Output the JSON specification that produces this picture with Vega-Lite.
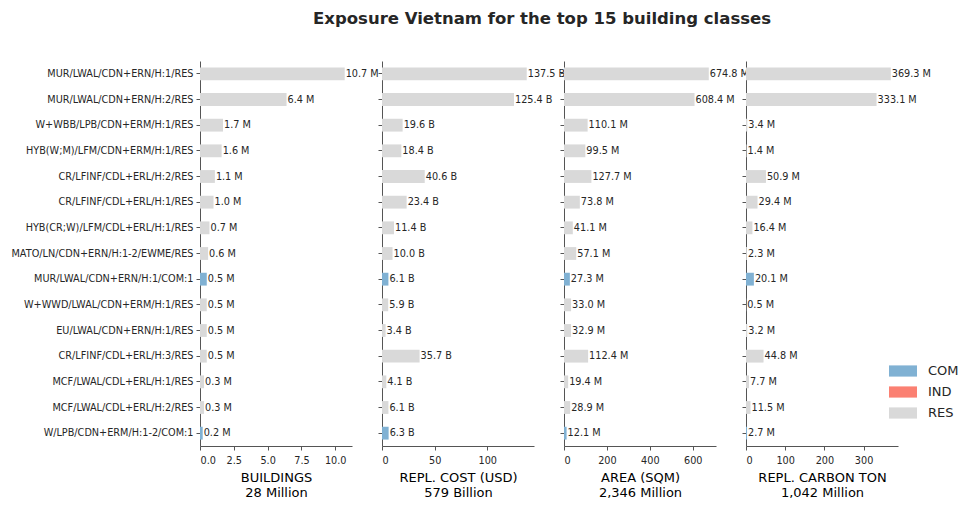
{
  "$schema": "https://vega.github.io/schema/vega-lite/v6.json",
  "padding": {"left": 11, "top": 10, "right": 5, "bottom": 5},
  "title": {
    "text": "Exposure Vietnam for the top 15 building classes",
    "fontSize": 16.5,
    "fontWeight": "bold",
    "font": "DejaVu Sans",
    "color": "#262626",
    "anchor": "middle",
    "dx": 57,
    "offset": 34
  },
  "data": {
    "values": [
      {"cls": "MUR/LWAL/CDN+ERN/H:1/RES", "occ": "RES", "buildings": 10.7, "cost": 137.5, "area": 674.8, "carbon": 369.3},
      {"cls": "MUR/LWAL/CDN+ERN/H:2/RES", "occ": "RES", "buildings": 6.4, "cost": 125.4, "area": 608.4, "carbon": 333.1},
      {"cls": "W+WBB/LPB/CDN+ERM/H:1/RES", "occ": "RES", "buildings": 1.7, "cost": 19.6, "area": 110.1, "carbon": 3.4},
      {"cls": "HYB(W;M)/LFM/CDN+ERM/H:1/RES", "occ": "RES", "buildings": 1.6, "cost": 18.4, "area": 99.5, "carbon": 1.4},
      {"cls": "CR/LFINF/CDL+ERL/H:2/RES", "occ": "RES", "buildings": 1.1, "cost": 40.6, "area": 127.7, "carbon": 50.9},
      {"cls": "CR/LFINF/CDL+ERL/H:1/RES", "occ": "RES", "buildings": 1.0, "cost": 23.4, "area": 73.8, "carbon": 29.4},
      {"cls": "HYB(CR;W)/LFM/CDL+ERL/H:1/RES", "occ": "RES", "buildings": 0.7, "cost": 11.4, "area": 41.1, "carbon": 16.4},
      {"cls": "MATO/LN/CDN+ERN/H:1-2/EWME/RES", "occ": "RES", "buildings": 0.6, "cost": 10.0, "area": 57.1, "carbon": 2.3},
      {"cls": "MUR/LWAL/CDN+ERN/H:1/COM:1", "occ": "COM", "buildings": 0.5, "cost": 6.1, "area": 27.3, "carbon": 20.1},
      {"cls": "W+WWD/LWAL/CDN+ERM/H:1/RES", "occ": "RES", "buildings": 0.5, "cost": 5.9, "area": 33.0, "carbon": 0.5},
      {"cls": "EU/LWAL/CDN+ERN/H:1/RES", "occ": "RES", "buildings": 0.5, "cost": 3.4, "area": 32.9, "carbon": 3.2},
      {"cls": "CR/LFINF/CDL+ERL/H:3/RES", "occ": "RES", "buildings": 0.5, "cost": 35.7, "area": 112.4, "carbon": 44.8},
      {"cls": "MCF/LWAL/CDL+ERL/H:1/RES", "occ": "RES", "buildings": 0.3, "cost": 4.1, "area": 19.4, "carbon": 7.7},
      {"cls": "MCF/LWAL/CDL+ERL/H:2/RES", "occ": "RES", "buildings": 0.3, "cost": 6.1, "area": 28.9, "carbon": 11.5},
      {"cls": "W/LPB/CDN+ERM/H:1-2/COM:1", "occ": "COM", "buildings": 0.2, "cost": 6.3, "area": 12.1, "carbon": 2.7}
    ]
  },
  "spacing": 30,
  "bounds": "flush",
  "hconcat": [
    {
      "width": 152,
      "height": 385,
      "transform": [{"calculate": "format(datum.buildings, '.1f') + ' M'", "as": "lab"}],
      "encoding": {
        "y": {"field": "cls", "type": "nominal", "sort": null, "title": null,
              "scale": {"paddingInner": 0.5, "paddingOuter": 0.25},
              "axis": {"labelLimit": 400}},
        "x": {"field": "buildings", "type": "quantitative",
              "scale": {"domain": [0, 11.24], "nice": false},
              "axis": {"values": [0, 2.5, 5, 7.5, 10], "format": ".1f", "title": ["BUILDINGS", "28 Million"]}}
      },
      "layer": [
        {"mark": {"type": "bar"},
         "encoding": {"color": {"field": "occ", "type": "nominal",
                                "scale": {"domain": ["COM", "IND", "RES"], "range": ["#80b1d3", "#fb8072", "#d9d9d9"]}}}},
        {"mark": {"type": "text", "align": "left", "baseline": "middle", "dx": 1},
         "encoding": {"text": {"field": "lab"}}}
      ]
    },
    {
      "width": 152,
      "height": 385,
      "transform": [{"calculate": "format(datum.cost, '.1f') + ' B'", "as": "lab"}],
      "encoding": {
        "y": {"field": "cls", "type": "nominal", "sort": null, "title": null,
              "scale": {"paddingInner": 0.5, "paddingOuter": 0.25},
              "axis": {"labels": false}},
        "x": {"field": "cost", "type": "quantitative",
              "scale": {"domain": [0, 144.4], "nice": false},
              "axis": {"values": [0, 50, 100], "title": ["REPL. COST (USD)", "579 Billion"]}}
      },
      "layer": [
        {"mark": {"type": "bar"},
         "encoding": {"color": {"field": "occ", "type": "nominal",
                                "scale": {"domain": ["COM", "IND", "RES"], "range": ["#80b1d3", "#fb8072", "#d9d9d9"]}}}},
        {"mark": {"type": "text", "align": "left", "baseline": "middle", "dx": 1},
         "encoding": {"text": {"field": "lab"}}}
      ]
    },
    {
      "width": 152,
      "height": 385,
      "transform": [{"calculate": "format(datum.area, '.1f') + ' M'", "as": "lab"}],
      "encoding": {
        "y": {"field": "cls", "type": "nominal", "sort": null, "title": null,
              "scale": {"paddingInner": 0.5, "paddingOuter": 0.25},
              "axis": {"labels": false}},
        "x": {"field": "area", "type": "quantitative",
              "scale": {"domain": [0, 708.5], "nice": false},
              "axis": {"values": [0, 200, 400, 600], "title": ["AREA (SQM)", "2,346 Million"]}}
      },
      "layer": [
        {"mark": {"type": "bar"},
         "encoding": {"color": {"field": "occ", "type": "nominal",
                                "scale": {"domain": ["COM", "IND", "RES"], "range": ["#80b1d3", "#fb8072", "#d9d9d9"]}}}},
        {"mark": {"type": "text", "align": "left", "baseline": "middle", "dx": 1},
         "encoding": {"text": {"field": "lab"}}}
      ]
    },
    {
      "width": 152,
      "height": 385,
      "transform": [{"calculate": "format(datum.carbon, '.1f') + ' M'", "as": "lab"}],
      "encoding": {
        "y": {"field": "cls", "type": "nominal", "sort": null, "title": null,
              "scale": {"paddingInner": 0.5, "paddingOuter": 0.25},
              "axis": {"labels": false}},
        "x": {"field": "carbon", "type": "quantitative",
              "scale": {"domain": [0, 387.8], "nice": false},
              "axis": {"values": [0, 100, 200, 300], "title": ["REPL. CARBON TON", "1,042 Million"]}}
      },
      "layer": [
        {"mark": {"type": "bar"},
         "encoding": {"color": {"field": "occ", "type": "nominal",
                                "scale": {"domain": ["COM", "IND", "RES"], "range": ["#80b1d3", "#fb8072", "#d9d9d9"]}}}},
        {"mark": {"type": "text", "align": "left", "baseline": "middle", "dx": 1},
         "encoding": {"text": {"field": "lab"}}}
      ]
    }
  ],
  "resolve": {"scale": {"color": "shared"}},
  "config": {
    "font": "DejaVu Sans",
    "view": {"stroke": null},
    "text": {"fontSize": 9.7, "color": "#262626", "font": "DejaVu Sans"},
    "axis": {
      "grid": false,
      "domainColor": "#555555",
      "tickColor": "#555555",
      "tickSize": 4,
      "labelColor": "#262626",
      "labelFontSize": 9.7,
      "labelFont": "DejaVu Sans",
      "titleFont": "DejaVu Sans",
      "titleFontSize": 13,
      "titleLineHeight": 15,
      "titleFontWeight": "normal",
      "titleColor": "#000000",
      "titlePadding": 7
    },
    "axisX": {"labelPadding": 5},
    "axisY": {"labelPadding": 3},
    "legend": {
      "orient": "none",
      "legendX": 696,
      "legendY": 303,
      "title": null,
      "symbolType": "M-2,-0.8H2V0.8H-2Z",
      "symbolSize": 196,
      "symbolStrokeWidth": 0,
      "symbolOpacity": 1,
      "labelFontSize": 13,
      "labelColor": "#262626",
      "labelFont": "DejaVu Sans",
      "labelOffset": 18,
      "rowPadding": 7
    }
  }
}
